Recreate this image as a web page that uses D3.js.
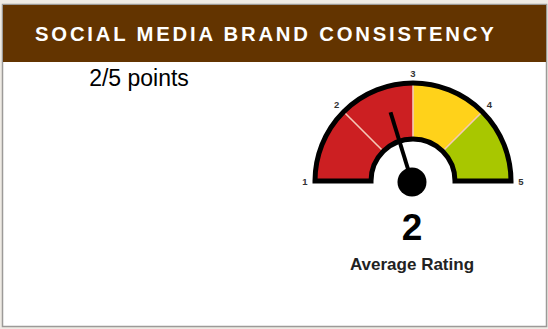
<!DOCTYPE html>
<html>
<head>
<meta charset="utf-8">
<script src="https://cdn.jsdelivr.net/npm/d3@7"></script>
<style>
  body { margin: 0; background: #efebe5; }
  svg { display: block; }
</style>
</head>
<body>
<div id="chart"></div>
<script>
const title = 'SOCIAL MEDIA BRAND CONSISTENCY';
const scoreText = '2/5 points';
const tickLabels = [1, 2, 3, 4, 5];
const bands = [
  {from: 1, to: 3, color: '#cc1f22'},
  {from: 3, to: 4, color: '#ffd21a'},
  {from: 4, to: 5, color: '#a8c700'},
];
const dividers = [2, 3, 4];
const needleValue = 2.62;
const ratingLabel = '2';
const ratingCaption = 'Average Rating';

const width = 548;
const height = 329;
const cx = 413;
const cy = 181;
const rOuter = 98;
const rInner = 42;
const font = 'Liberation Sans, Arial, sans-serif';

const svg = d3.select('#chart').append('svg')
  .attr('width', width)
  .attr('height', height);

// card
svg.append('rect')
  .attr('x', 2.5).attr('y', 4.5)
  .attr('width', 544).attr('height', 322)
  .attr('fill', '#fff')
  .attr('stroke', '#9c9a98')
  .attr('stroke-width', 1.5);

svg.append('rect')
  .attr('x', 3).attr('y', 5)
  .attr('width', 543).attr('height', 57)
  .attr('fill', '#633400');

svg.append('text')
  .attr('x', 35).attr('y', 41)
  .attr('fill', '#fff')
  .attr('font-family', font)
  .attr('font-weight', 'bold')
  .attr('font-size', 20.3)
  .attr('letter-spacing', 2.8)
  .text(title);

svg.append('text')
  .attr('x', 139).attr('y', 86)
  .attr('text-anchor', 'middle')
  .attr('fill', '#000')
  .attr('font-family', font)
  .attr('font-size', 23)
  .text(scoreText);

// gauge: value 1 at the left, 5 at the right
const angle = d3.scaleLinear()
  .domain([1, 5])
  .range([-Math.PI / 2, Math.PI / 2]);

const g = svg.append('g').attr('transform', `translate(${cx},${cy})`);

const arc = d3.arc()
  .innerRadius(rInner)
  .outerRadius(rOuter);

g.selectAll('path.band')
  .data(bands)
  .join('path')
  .attr('class', 'band')
  .attr('d', d => arc({startAngle: angle(d.from), endAngle: angle(d.to)}))
  .attr('fill', d => d.color);

g.selectAll('line.divider')
  .data(dividers)
  .join('line')
  .attr('class', 'divider')
  .attr('x1', d => rInner * Math.sin(angle(d)))
  .attr('y1', d => -rInner * Math.cos(angle(d)))
  .attr('x2', d => rOuter * Math.sin(angle(d)))
  .attr('y2', d => -rOuter * Math.cos(angle(d)))
  .attr('stroke', '#f4c9b8')
  .attr('stroke-width', 1.6);

g.append('path')
  .attr('d', arc({startAngle: angle(1), endAngle: angle(5)}))
  .attr('fill', 'none')
  .attr('stroke', '#000')
  .attr('stroke-width', 5)
  .attr('stroke-linejoin', 'miter');

g.selectAll('text.tick')
  .data(tickLabels)
  .join('text')
  .attr('class', 'tick')
  .attr('x', d => 108 * Math.sin(angle(d)))
  .attr('y', d => -108 * Math.cos(angle(d)) + 3.5)
  .attr('text-anchor', 'middle')
  .attr('font-family', font)
  .attr('font-size', 9.5)
  .attr('font-weight', 'bold')
  .attr('fill', '#333')
  .text(d => d);

// needle
const needleLen = 73;
g.append('line')
  .attr('x1', -1).attr('y1', 1)
  .attr('x2', -1 + needleLen * Math.sin(angle(needleValue)))
  .attr('y2', 1 - needleLen * Math.cos(angle(needleValue)))
  .attr('stroke', '#000')
  .attr('stroke-width', 4);

g.append('circle')
  .attr('cx', -1).attr('cy', 1)
  .attr('r', 14.5)
  .attr('fill', '#000');

svg.append('text')
  .attr('x', 412).attr('y', 240)
  .attr('text-anchor', 'middle')
  .attr('font-family', font)
  .attr('font-weight', 'bold')
  .attr('font-size', 37)
  .attr('fill', '#000')
  .text(ratingLabel);

svg.append('text')
  .attr('x', 412).attr('y', 270)
  .attr('text-anchor', 'middle')
  .attr('font-family', font)
  .attr('font-weight', 'bold')
  .attr('font-size', 17)
  .attr('fill', '#222')
  .text(ratingCaption);
</script>
</body>
</html>
